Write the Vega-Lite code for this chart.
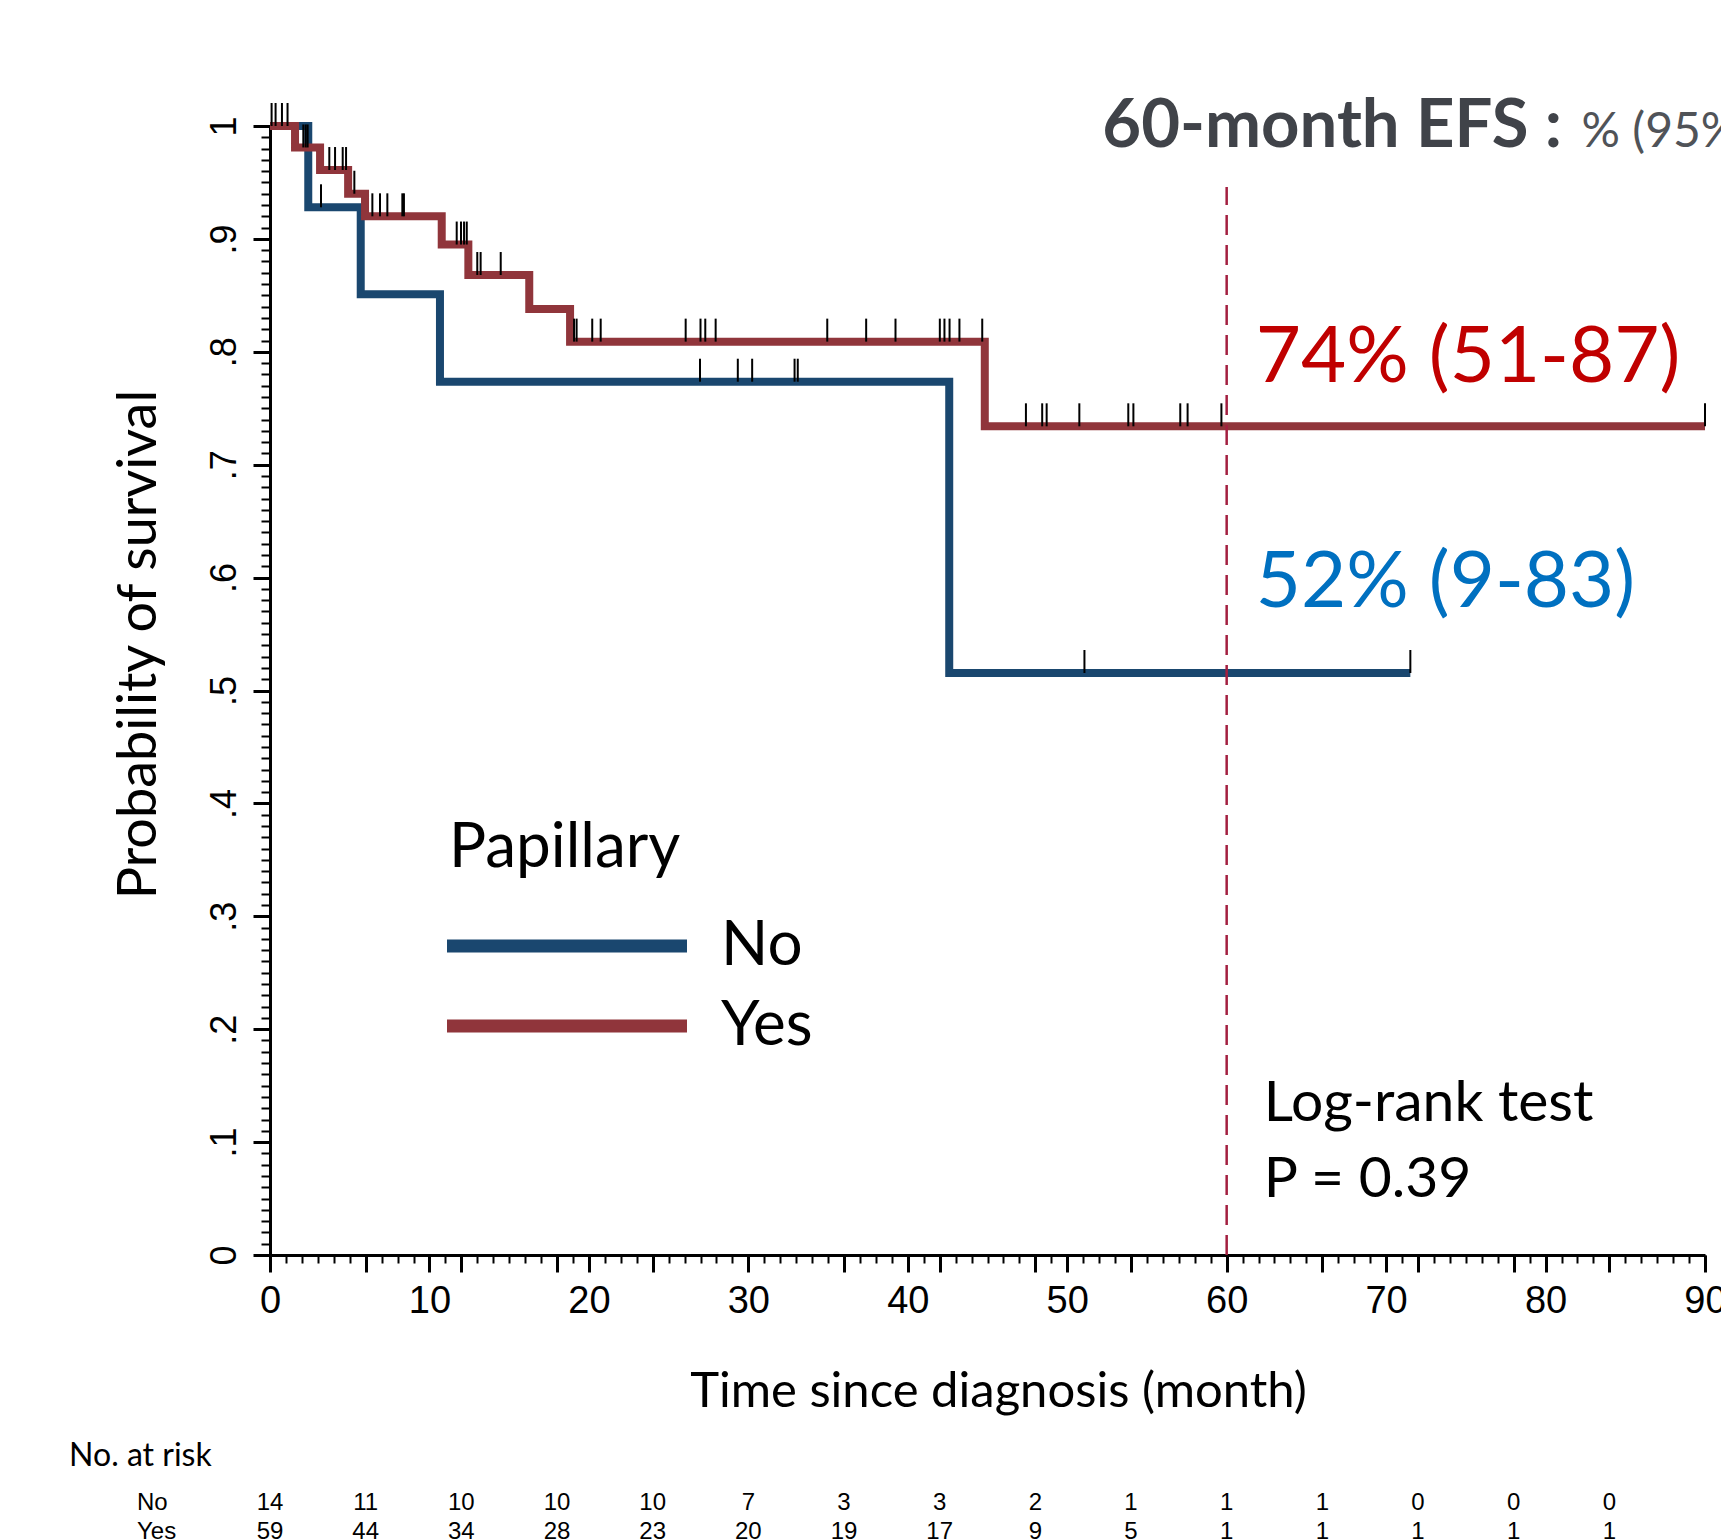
{
  "$schema": "https://vega.github.io/schema/vega-lite/v6.json",
  "width": 1435,
  "height": 1129,
  "autosize": {"type": "none"},
  "padding": {"left": 270, "top": 126, "right": 16, "bottom": 284},
  "background": "white",
  "config": {
    "view": {"stroke": null},
    "axis": {"domainColor": "black", "tickColor": "black", "labelColor": "black", "titleColor": "black", "grid": false}
  },
  "datasets": {
    "km": [
      {"group": "No", "t": 0, "s": 1},
      {"group": "No", "t": 2.4, "s": 0.928},
      {"group": "No", "t": 5.69, "s": 0.851},
      {"group": "No", "t": 10.66, "s": 0.7735},
      {"group": "No", "t": 42.6, "s": 0.5155},
      {"group": "No", "t": 71.52, "s": 0.5155},
      {"group": "Yes", "t": 0, "s": 1},
      {"group": "Yes", "t": 1.57, "s": 0.981},
      {"group": "Yes", "t": 3.14, "s": 0.961},
      {"group": "Yes", "t": 4.9, "s": 0.94},
      {"group": "Yes", "t": 5.96, "s": 0.92},
      {"group": "Yes", "t": 10.77, "s": 0.895},
      {"group": "Yes", "t": 12.44, "s": 0.868},
      {"group": "Yes", "t": 16.26, "s": 0.838},
      {"group": "Yes", "t": 18.82, "s": 0.809},
      {"group": "Yes", "t": 44.83, "s": 0.734},
      {"group": "Yes", "t": 90, "s": 0.734}
    ],
    "censor": [
      {"group": "Yes", "t": 0.1, "s": 1}, {"group": "Yes", "t": 0.35, "s": 1}, {"group": "Yes", "t": 0.75, "s": 1}, {"group": "Yes", "t": 1.1, "s": 1},
      {"group": "Yes", "t": 2.09, "s": 0.981}, {"group": "Yes", "t": 2.24, "s": 0.981}, {"group": "Yes", "t": 2.36, "s": 0.981},
      {"group": "No", "t": 3.2, "s": 0.928},
      {"group": "Yes", "t": 3.72, "s": 0.961}, {"group": "Yes", "t": 4.08, "s": 0.961}, {"group": "Yes", "t": 4.56, "s": 0.961}, {"group": "Yes", "t": 4.77, "s": 0.961},
      {"group": "Yes", "t": 5.29, "s": 0.94},
      {"group": "Yes", "t": 6.42, "s": 0.92}, {"group": "Yes", "t": 6.9, "s": 0.92}, {"group": "Yes", "t": 7.36, "s": 0.92}, {"group": "Yes", "t": 8.3, "s": 0.92}, {"group": "Yes", "t": 8.4, "s": 0.92},
      {"group": "Yes", "t": 11.71, "s": 0.895}, {"group": "Yes", "t": 11.98, "s": 0.895}, {"group": "Yes", "t": 12.17, "s": 0.895}, {"group": "Yes", "t": 12.34, "s": 0.895},
      {"group": "Yes", "t": 13.0, "s": 0.868}, {"group": "Yes", "t": 13.21, "s": 0.868}, {"group": "Yes", "t": 14.47, "s": 0.868},
      {"group": "Yes", "t": 19.07, "s": 0.809}, {"group": "Yes", "t": 19.23, "s": 0.809}, {"group": "Yes", "t": 20.21, "s": 0.809}, {"group": "Yes", "t": 20.74, "s": 0.809},
      {"group": "Yes", "t": 26.07, "s": 0.809}, {"group": "Yes", "t": 27.0, "s": 0.809}, {"group": "Yes", "t": 27.3, "s": 0.809}, {"group": "Yes", "t": 27.95, "s": 0.809},
      {"group": "Yes", "t": 34.95, "s": 0.809}, {"group": "Yes", "t": 37.39, "s": 0.809}, {"group": "Yes", "t": 39.23, "s": 0.809},
      {"group": "Yes", "t": 42.01, "s": 0.809}, {"group": "Yes", "t": 42.3, "s": 0.809}, {"group": "Yes", "t": 42.62, "s": 0.809}, {"group": "Yes", "t": 43.24, "s": 0.809}, {"group": "Yes", "t": 44.67, "s": 0.809},
      {"group": "Yes", "t": 47.41, "s": 0.734}, {"group": "Yes", "t": 48.43, "s": 0.734}, {"group": "Yes", "t": 48.71, "s": 0.734}, {"group": "Yes", "t": 50.76, "s": 0.734},
      {"group": "Yes", "t": 53.83, "s": 0.734}, {"group": "Yes", "t": 54.15, "s": 0.734}, {"group": "Yes", "t": 57.09, "s": 0.734}, {"group": "Yes", "t": 57.55, "s": 0.734},
      {"group": "Yes", "t": 59.67, "s": 0.734}, {"group": "Yes", "t": 90, "s": 0.734},
      {"group": "No", "t": 26.97, "s": 0.7735}, {"group": "No", "t": 29.34, "s": 0.7735}, {"group": "No", "t": 30.24, "s": 0.7735}, {"group": "No", "t": 32.9, "s": 0.7735}, {"group": "No", "t": 33.1, "s": 0.7735},
      {"group": "No", "t": 51.08, "s": 0.5155}, {"group": "No", "t": 71.52, "s": 0.5155}
    ],
    "risk": [
      {"group": "No", "t": 0, "n": 14}, {"group": "No", "t": 6, "n": 11}, {"group": "No", "t": 12, "n": 10}, {"group": "No", "t": 18, "n": 10},
      {"group": "No", "t": 24, "n": 10}, {"group": "No", "t": 30, "n": 7}, {"group": "No", "t": 36, "n": 3}, {"group": "No", "t": 42, "n": 3},
      {"group": "No", "t": 48, "n": 2}, {"group": "No", "t": 54, "n": 1}, {"group": "No", "t": 60, "n": 1}, {"group": "No", "t": 66, "n": 1},
      {"group": "No", "t": 72, "n": 0}, {"group": "No", "t": 78, "n": 0}, {"group": "No", "t": 84, "n": 0},
      {"group": "Yes", "t": 0, "n": 59}, {"group": "Yes", "t": 6, "n": 44}, {"group": "Yes", "t": 12, "n": 34}, {"group": "Yes", "t": 18, "n": 28},
      {"group": "Yes", "t": 24, "n": 23}, {"group": "Yes", "t": 30, "n": 20}, {"group": "Yes", "t": 36, "n": 19}, {"group": "Yes", "t": 42, "n": 17},
      {"group": "Yes", "t": 48, "n": 9}, {"group": "Yes", "t": 54, "n": 5}, {"group": "Yes", "t": 60, "n": 1}, {"group": "Yes", "t": 66, "n": 1},
      {"group": "Yes", "t": 72, "n": 1}, {"group": "Yes", "t": 78, "n": 1}, {"group": "Yes", "t": 84, "n": 1}
    ]
  },
  "layer": [
    {
      "layer": [
        {
          "data": {"name": "km"},
          "mark": {"type": "line", "interpolate": "step-after", "strokeWidth": 8, "clip": false},
          "encoding": {
            "x": {
              "field": "t", "type": "quantitative",
              "scale": {"domain": [0, 90], "nice": false, "zero": false},
              "axis": {
                "orient": "bottom",
                "values": [0, 6, 10, 12, 18, 20, 24, 30, 36, 40, 42, 48, 50, 54, 60, 66, 70, 72, 78, 80, 84, 90],
                "labelExpr": "datum.value % 10 === 0 ? datum.label : ''",
                "tickSize": 17, "tickWidth": 3, "domainWidth": 3,
                "labelFont": "Liberation Sans", "labelFontSize": 38, "labelPadding": 10,
                "labelFlush": false, "labelOverlap": false, "labelBound": false,
                "title": "Time since diagnosis (month)",
                "titleFont": "Lato", "titleFontSize": 49, "titleFontWeight": "normal",
                "titleX": 728, "titleY": 151, "titleAlign": "center", "titleBaseline": "alphabetic"
              }
            },
            "y": {
              "field": "s", "type": "quantitative",
              "scale": {"domain": [0, 1], "nice": false, "zero": false},
              "axis": {
                "orient": "left",
                "values": [0, 0.1, 0.2, 0.3, 0.4, 0.5, 0.6, 0.7, 0.8, 0.9, 1],
                "labelExpr": "datum.value === 0 ? '0' : datum.value === 1 ? '1' : replace(format(datum.value, '.1f'), '0.', '.')",
                "tickSize": 17, "tickWidth": 3, "domainWidth": 3,
                "labelFont": "Liberation Sans", "labelFontSize": 36, "labelPadding": 18,
                "labelAngle": -90, "labelAlign": "center", "labelBaseline": "alphabetic",
                "labelFlush": false, "labelOverlap": false, "labelBound": false,
                "title": "Probability of survival",
                "titleFont": "Lato", "titleFontSize": 54, "titleFontWeight": "normal",
                "titleX": -104, "titleY": 518, "titleAngle": -90, "titleAlign": "center", "titleBaseline": "bottom"
              }
            },
            "color": {
              "field": "group", "type": "nominal",
              "scale": {"domain": ["No", "Yes"], "range": ["#1a476f", "#90353b"]},
              "legend": {
                "orient": "none", "legendX": 179, "legendY": 692, "padding": 0,
                "title": "Papillary", "titleFont": "Lato", "titleFontSize": 62, "titleFontWeight": "normal", "titleColor": "black",
                "titlePadding": 35, "titleLimit": 1000,
                "labelFont": "Lato", "labelFontSize": 62, "labelColor": "black", "labelLimit": 1000,
                "symbolType": "M-6,0H6", "symbolSize": 1600, "symbolStrokeWidth": 13,
                "symbolOffset": 87, "labelOffset": 123, "rowPadding": 18
              }
            }
          }
        },
        {
          "data": {"values": [{}]},
          "mark": {"type": "rule", "color": "#a31f40", "strokeWidth": 2.5, "strokeDash": [20, 10]},
          "encoding": {
            "x": {"datum": 60, "type": "quantitative"},
            "y": {"datum": 0, "type": "quantitative"},
            "y2": {"datum": 0.946}
          }
        },
        {
          "data": {"values": [{}]},
          "mark": {"type": "text", "text": "60-month EFS :", "font": "Lato", "fontWeight": "bold", "fontSize": 67, "color": "#404349", "align": "left", "baseline": "alphabetic"},
          "encoding": {"x": {"datum": 52.2, "type": "quantitative"}, "y": {"datum": 0.9817, "type": "quantitative"}}
        },
        {
          "data": {"values": [{}]},
          "mark": {"type": "text", "text": "% (95%", "font": "Lato", "fontSize": 48, "color": "#505358", "align": "left", "baseline": "alphabetic"},
          "encoding": {"x": {"datum": 82.26, "type": "quantitative"}, "y": {"datum": 0.9817, "type": "quantitative"}}
        },
        {
          "data": {"values": [{}]},
          "mark": {"type": "text", "text": "74% (51-87)", "font": "Lato", "fontSize": 78, "color": "#c00000", "align": "left", "baseline": "alphabetic"},
          "encoding": {"x": {"datum": 61.83, "type": "quantitative"}, "y": {"datum": 0.773, "type": "quantitative"}}
        },
        {
          "data": {"values": [{}]},
          "mark": {"type": "text", "text": "52% (9-83)", "font": "Lato", "fontSize": 78, "color": "#0070c0", "align": "left", "baseline": "alphabetic"},
          "encoding": {"x": {"datum": 61.83, "type": "quantitative"}, "y": {"datum": 0.574, "type": "quantitative"}}
        },
        {
          "data": {"values": [{}]},
          "mark": {"type": "text", "text": "Log-rank test", "font": "Lato", "fontSize": 57, "color": "black", "align": "left", "baseline": "alphabetic"},
          "encoding": {"x": {"datum": 62.33, "type": "quantitative"}, "y": {"datum": 0.119, "type": "quantitative"}}
        },
        {
          "data": {"values": [{}]},
          "mark": {"type": "text", "text": "P = 0.39", "font": "Lato", "fontSize": 57, "color": "black", "align": "left", "baseline": "alphabetic"},
          "encoding": {"x": {"datum": 62.33, "type": "quantitative"}, "y": {"datum": 0.0516, "type": "quantitative"}}
        },
        {
          "data": {"values": [{}]},
          "mark": {"type": "text", "text": "No. at risk", "font": "Lato", "fontSize": 32, "color": "black", "align": "left", "baseline": "alphabetic"},
          "encoding": {"x": {"datum": -12.6, "type": "quantitative"}, "y": {"datum": -0.187, "type": "quantitative"}}
        },
        {
          "data": {"values": [{}]},
          "mark": {"type": "text", "text": "No", "font": "Liberation Sans", "fontSize": 24, "color": "black", "align": "left", "baseline": "alphabetic"},
          "encoding": {"x": {"datum": -8.34, "type": "quantitative"}, "y": {"datum": -0.226, "type": "quantitative"}}
        },
        {
          "data": {"values": [{}]},
          "mark": {"type": "text", "text": "Yes", "font": "Liberation Sans", "fontSize": 24, "color": "black", "align": "left", "baseline": "alphabetic"},
          "encoding": {"x": {"datum": -8.34, "type": "quantitative"}, "y": {"datum": -0.2516, "type": "quantitative"}}
        },
        {
          "data": {"name": "risk"},
          "transform": [{"filter": "datum.group === 'No'"}],
          "mark": {"type": "text", "font": "Liberation Sans", "fontSize": 24, "color": "black", "align": "center", "baseline": "alphabetic"},
          "encoding": {
            "x": {"field": "t", "type": "quantitative"},
            "y": {"datum": -0.226, "type": "quantitative"},
            "text": {"field": "n", "type": "quantitative"}
          }
        },
        {
          "data": {"name": "risk"},
          "transform": [{"filter": "datum.group === 'Yes'"}],
          "mark": {"type": "text", "font": "Liberation Sans", "fontSize": 24, "color": "black", "align": "center", "baseline": "alphabetic"},
          "encoding": {
            "x": {"field": "t", "type": "quantitative"},
            "y": {"datum": -0.2516, "type": "quantitative"},
            "text": {"field": "n", "type": "quantitative"}
          }
        }
      ]
    },
    {
      "data": {"name": "censor"},
      "mark": {"type": "rule", "color": "black", "strokeWidth": 2, "y2Offset": -23, "clip": false},
      "encoding": {
        "x": {
          "field": "t", "type": "quantitative",
          "axis": {
            "orient": "bottom",
            "values": [0,1,2,3,4,5,6,7,8,9,10,11,12,13,14,15,16,17,18,19,20,21,22,23,24,25,26,27,28,29,30,31,32,33,34,35,36,37,38,39,40,41,42,43,44,45,46,47,48,49,50,51,52,53,54,55,56,57,58,59,60,61,62,63,64,65,66,67,68,69,70,71,72,73,74,75,76,77,78,79,80,81,82,83,84,85,86,87,88,89,90],
            "tickSize": 8, "tickWidth": 2, "domain": false, "labels": false, "title": null
          }
        },
        "y": {
          "field": "s", "type": "quantitative",
          "axis": {
            "orient": "left",
            "values": [0,0.01,0.02,0.03,0.04,0.05,0.06,0.07,0.08,0.09,0.1,0.11,0.12,0.13,0.14,0.15,0.16,0.17,0.18,0.19,0.2,0.21,0.22,0.23,0.24,0.25,0.26,0.27,0.28,0.29,0.3,0.31,0.32,0.33,0.34,0.35,0.36,0.37,0.38,0.39,0.4,0.41,0.42,0.43,0.44,0.45,0.46,0.47,0.48,0.49,0.5,0.51,0.52,0.53,0.54,0.55,0.56,0.57,0.58,0.59,0.6,0.61,0.62,0.63,0.64,0.65,0.66,0.67,0.68,0.69,0.7,0.71,0.72,0.73,0.74,0.75,0.76,0.77,0.78,0.79,0.8,0.81,0.82,0.83,0.84,0.85,0.86,0.87,0.88,0.89,0.9,0.91,0.92,0.93,0.94,0.95,0.96,0.97,0.98,0.99,1],
            "tickSize": 9, "tickWidth": 2, "domain": false, "labels": false, "title": null
          }
        },
        "y2": {"field": "s"}
      }
    }
  ],
  "resolve": {"axis": {"x": "independent", "y": "independent"}}
}
